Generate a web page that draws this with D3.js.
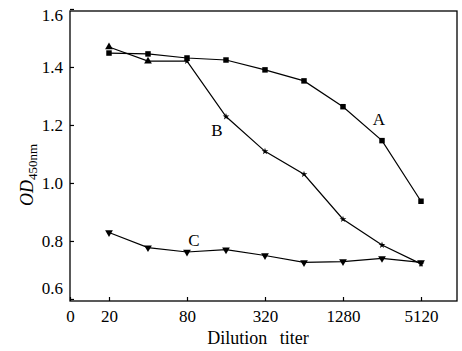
<!DOCTYPE html>
<html>
<head>
<meta charset="utf-8">
<script src="https://cdn.jsdelivr.net/npm/d3@7"></script>
<style>
  body { margin: 0; background: #fff; }
  svg text { font-family: "Liberation Serif", "Times New Roman", serif !important; fill: #000; }
</style>
</head>
<body>
<svg id="chart" width="462" height="351"></svg>
<script>
// dilution titers (x) and OD450 values
const titers = [20, 40, 80, 160, 320, 640, 1280, 2560, 5120];
const seriesA = [1.448, 1.445, 1.431, 1.424, 1.390, 1.352, 1.263, 1.146, 0.937];
const seriesB = [1.469, 1.420, 1.420, 1.229, 1.109, 1.030, 0.875, 0.786, 0.721];
const seriesC = [0.829, 0.777, 0.762, 0.770, 0.750, 0.726, 0.729, 0.740, 0.726];
const xTicks = [10, 20, 80, 320, 1280, 5120];
const xTickLabels = ['0', '20', '80', '320', '1280', '5120'];
const yTicks = [0.6, 0.8, 1.0, 1.2, 1.4, 1.6];

const serif = '"Liberation Serif", "Times New Roman", serif';
const margin = { top: 11, right: 5, bottom: 50, left: 70 };
const width = 462, height = 351;
const svg = d3.select('#chart');

const x = d3.scaleLog().base(2)
  .domain([10, 10 * Math.pow(2, 387 / 39)])
  .range([margin.left, width - margin.right]);

const y = d3.scaleLinear()
  .domain([0.593, 1.593])
  .range([height - margin.bottom, margin.top]);

// frame
svg.append('rect')
  .attr('x', margin.left).attr('y', margin.top)
  .attr('width', width - margin.left - margin.right)
  .attr('height', height - margin.top - margin.bottom)
  .attr('fill', 'none').attr('stroke', '#000').attr('stroke-width', 1.3);

// x axis, ticks inward
const xAxis = svg.append('g')
  .attr('transform', `translate(0, ${height - margin.bottom})`)
  .attr('font-family', serif)
  .call(d3.axisBottom(x).tickValues(xTicks).tickSizeInner(-4).tickSizeOuter(0)
    .tickFormat((d, i) => xTickLabels[i]));
xAxis.attr('font-family', serif);
xAxis.select('.domain').remove();
xAxis.selectAll('line').attr('stroke-width', 1.2);
xAxis.selectAll('text').attr('font-size', 17).attr('dy', '1.05em');

// y axis, ticks inward
const yAxis = svg.append('g')
  .attr('transform', `translate(${margin.left}, 0)`)
  .call(d3.axisLeft(y).tickValues(yTicks).tickSizeInner(-4).tickSizeOuter(0)
    .tickFormat(d3.format('.1f')));
yAxis.attr('font-family', serif);
yAxis.select('.domain').remove();
yAxis.selectAll('line').attr('stroke-width', 1.2);
yAxis.selectAll('text').attr('font-size', 17).attr('x', -7)
  .attr('dy', d => d === 0.6 ? '-0.35em' : d === 1.6 ? '0.65em' : '0.32em');

// axis titles
svg.append('text')
  .attr('x', 258).attr('y', 344)
  .attr('text-anchor', 'middle').attr('font-size', 18)
  .attr('font-family', serif)
  .attr('word-spacing', 8)
  .text('Dilution titer');

const yTitle = svg.append('text')
  .attr('transform', 'translate(33, 175) rotate(-90)')
  .attr('text-anchor', 'middle').attr('font-size', 18)
  .attr('font-family', serif);
yTitle.append('tspan').attr('font-style', 'italic').text('OD');
yTitle.append('tspan').attr('font-size', 13).attr('dy', 4).text('450nm');

const line = d3.line()
  .x((d, i) => x(titers[i]))
  .y(d => y(d));

const series = [
  { values: seriesA, symbol: () => d3.symbolSquare, size: () => 30 },
  { values: seriesB, symbol: i => i < 2 ? d3.symbolTriangle : d3.symbolStar, size: i => i < 2 ? 26 : 14 },
  { values: seriesC, symbol: () => d3.symbolTriangle, size: () => 26, flip: true }
];

series.forEach(s => {
  svg.append('path')
    .datum(s.values)
    .attr('fill', 'none')
    .attr('stroke', '#000')
    .attr('stroke-width', 1.2)
    .attr('d', line);

  svg.selectAll(null)
    .data(s.values)
    .join('path')
    .attr('transform', (d, i) => `translate(${x(titers[i])}, ${y(d)})${s.flip ? ' rotate(180)' : ''}`)
    .attr('d', (d, i) => d3.symbol().type(s.symbol(i)).size(s.size(i))())
    .attr('fill', '#000');
});

// series labels
const labels = [
  { text: 'A', x: 379, y: 125 },
  { text: 'B', x: 217, y: 136 },
  { text: 'C', x: 194, y: 246 }
];
svg.selectAll(null)
  .data(labels)
  .join('text')
  .attr('x', d => d.x).attr('y', d => d.y)
  .attr('text-anchor', 'middle')
  .attr('font-size', 17)
  .attr('font-family', serif)
  .text(d => d.text);
</script>
</body>
</html>
